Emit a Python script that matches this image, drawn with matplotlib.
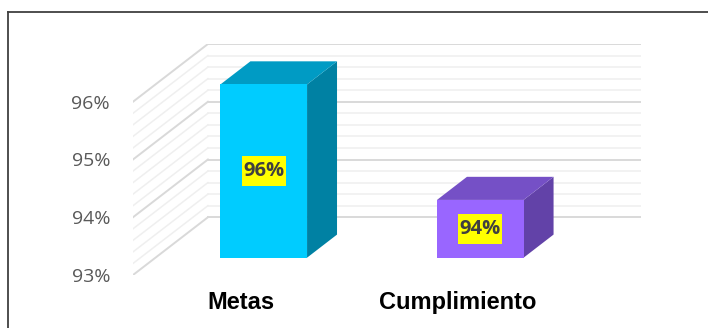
import matplotlib.pyplot as plt
from matplotlib.patches import Polygon, Rectangle
from matplotlib.lines import Line2D
from matplotlib.transforms import IdentityTransform
import numpy as np

categories = ["Metas", "Cumplimiento"]
values = [96, 94]
value_labels = ["96%", "94%"]
yticks = [93, 94, 95, 96]
ytick_labels = ["93%", "94%", "95%", "96%"]

front_colors = ["#00CCFF", "#9966FF"]
top_colors = ["#009BC4", "#7550C6"]
side_colors = ["#0081A3", "#6242A8"]

# oblique depth vector (x in category units, y in percent)
DX, DY = 0.346, 1.0
d0, d1 = 0.3, 0.7   # bar front / back depth
w = 0.4             # bar width
base = 93


def proj(x, y, d):
    return (x + d * DX, y + d * DY)


fig = plt.figure(figsize=(7.08, 3.28), dpi=100)
ax = fig.add_axes([133 / 708, 53 / 328, 508 / 708, 231 / 328])
ax.set_xlim(-0.5, 1.5 + DX)
ax.set_ylim(93, 97)
ax.patch.set_alpha(0)
for s in ax.spines.values():
    s.set_visible(False)

# back wall and side wall gridlines
levels = np.round(np.arange(93, 96.01, 0.2), 1)
for major in (False, True):
    for v in levels:
        if (abs(v - round(v)) < 1e-6) != major:
            continue
        c = "#D9D9D9" if major else "#EFEFEF"
        lw = 1.4 if major else 1.1
        x0, y0 = proj(-0.5, v, 1)
        x1, y1 = proj(1.5, v, 1)
        ax.plot([x0, x1], [y0, y1], color=c, lw=lw, zorder=1)
        ax.plot([-0.5, x0], [v, y0], color=c, lw=lw, zorder=1)

# 3D-looking bars
texts = []
for i, (cat, val) in enumerate(zip(categories, values)):
    xl, xr = i - w / 2, i + w / 2
    front = [proj(xl, base, d0), proj(xr, base, d0), proj(xr, val, d0), proj(xl, val, d0)]
    top = [proj(xl, val, d0), proj(xr, val, d0), proj(xr, val, d1), proj(xl, val, d1)]
    side = [proj(xr, base, d0), proj(xr, val, d0), proj(xr, val, d1), proj(xr, base, d1)]
    ax.add_patch(Polygon(side, closed=True, fc=side_colors[i], ec="none", zorder=3))
    ax.add_patch(Polygon(top, closed=True, fc=top_colors[i], ec="none", zorder=3))
    ax.add_patch(Polygon(front, closed=True, fc=front_colors[i], ec="none", zorder=4))
    cx, cy = proj(i, (base + val) / 2, d0)
    t = ax.text(cx, cy, value_labels[i], ha="center", va="center", fontsize=14.5,
                fontweight="bold", family="Open Sans", color="#404040", zorder=6)
    texts.append((t, cx, cy))

ax.set_yticks(yticks)
ax.set_yticklabels(ytick_labels, family="Open Sans", fontsize=14, color="#595959")
ax.set_xticks(range(len(categories)))
ax.set_xticklabels(categories, family="Liberation Sans", fontsize=17,
                   fontweight="bold", color="black")
ax.tick_params(axis="y", length=0, pad=16.5)
ax.tick_params(axis="x", length=0, pad=11.5)

# yellow label boxes (taller than the text, as in the original)
fig.canvas.draw()
renderer = fig.canvas.get_renderer()
for t, cx, cy in texts:
    bb = t.get_window_extent(renderer)
    px, py = ax.transData.transform((cx, cy))
    ax.add_patch(Rectangle((bb.x0 - 1.5, py - 15), bb.width + 3, 30,
                           transform=IdentityTransform(), fc="#FFFF00", ec="none", zorder=5))

# outer chart border (left and top edges visible)
fig.add_artist(Line2D([7.5 / 708, 7.5 / 708], [0, 1 - 11.5 / 328], color="#404040", lw=1.3))
fig.add_artist(Line2D([7.5 / 708, 1], [1 - 11.5 / 328, 1 - 11.5 / 328], color="#404040", lw=1.3))

fig.savefig("out.png", dpi=100)
